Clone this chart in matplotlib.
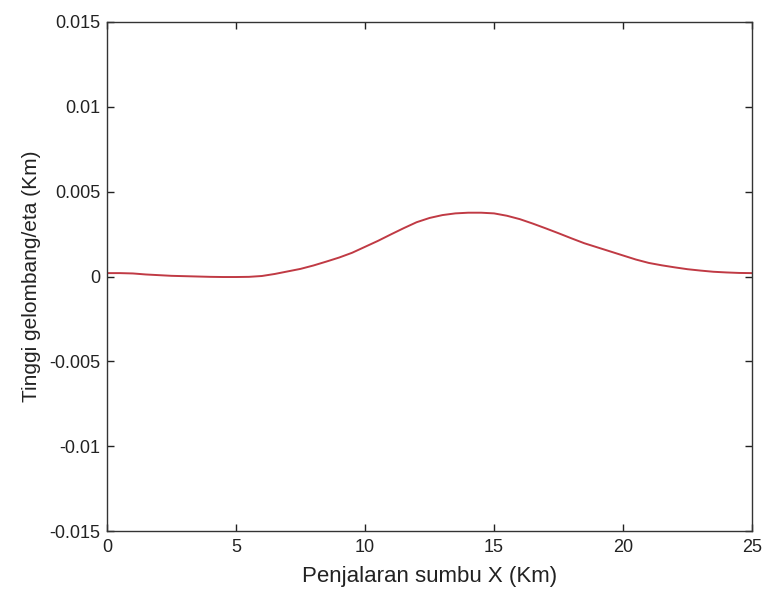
import numpy as np
import matplotlib.pyplot as plt

plt.rcParams['font.family'] = ['Liberation Sans', 'DejaVu Sans']

# jarak penjalaran (Km) dan tinggi gelombang (Km)
x_km = [0, 0.5, 1, 1.5, 2, 2.5, 3, 3.5, 4, 4.5, 5, 5.5, 6, 6.5, 7, 7.5, 8, 8.5,
        9, 9.5, 10, 10.5, 11, 11.5, 12, 12.5, 13, 13.5, 14, 14.5, 15, 15.5, 16,
        16.5, 17, 17.5, 18, 18.5, 19, 19.5, 20, 20.5, 21, 21.5, 22, 22.5, 23,
        23.5, 24, 24.5, 25]
eta_km = [0.0002, 0.0002, 0.00018, 0.00012, 0.00008, 0.00004, 0.00002, 0.0,
          -0.00002, -0.00003, -0.00003, -0.00002, 0.00003, 0.00015, 0.0003,
          0.00045, 0.00065, 0.00088, 0.00112, 0.0014, 0.00175, 0.0021, 0.00248,
          0.00285, 0.0032, 0.00345, 0.00362, 0.00372, 0.00376, 0.00376, 0.00372,
          0.00358, 0.00338, 0.00312, 0.00284, 0.00255, 0.00225, 0.00196, 0.00172,
          0.00148, 0.00124, 0.001, 0.0008, 0.00066, 0.00054, 0.00043, 0.00035,
          0.00028, 0.00024, 0.00021, 0.0002]

xticks = [0, 5, 10, 15, 20, 25]
yticks = [-0.015, -0.01, -0.005, 0, 0.005, 0.01, 0.015]
ytick_labels = ['-0.015', '-0.01', '-0.005', '0', '0.005', '0.01', '0.015']

fig = plt.figure(figsize=(7.65, 5.94), dpi=100)
ax = fig.add_axes([0.140, 0.106, 0.843, 0.857])

ax.plot(x_km, eta_km, color='#c03a44', linewidth=1.4)

ax.set_xlim(0, 25)
ax.set_ylim(-0.015, 0.015)
ax.set_xticks(xticks)
ax.set_yticks(yticks)
ax.set_yticklabels(ytick_labels)
ax.tick_params(direction='in', length=5, width=1, top=True, right=True,
               labelsize=13, colors='#222222')
ax.tick_params(axis='x', pad=6)
ax.tick_params(axis='y', pad=5)
for s in ax.spines.values():
    s.set_color('#333333')
    s.set_linewidth(1)

ax.set_xlabel('Penjalaran sumbu X (Km)', fontsize=16, color='#222222', labelpad=7)
ax.set_ylabel('Tinggi gelombang/eta (Km)', fontsize=15, color='#222222', labelpad=6)

fig.savefig('out.png', dpi=100)
